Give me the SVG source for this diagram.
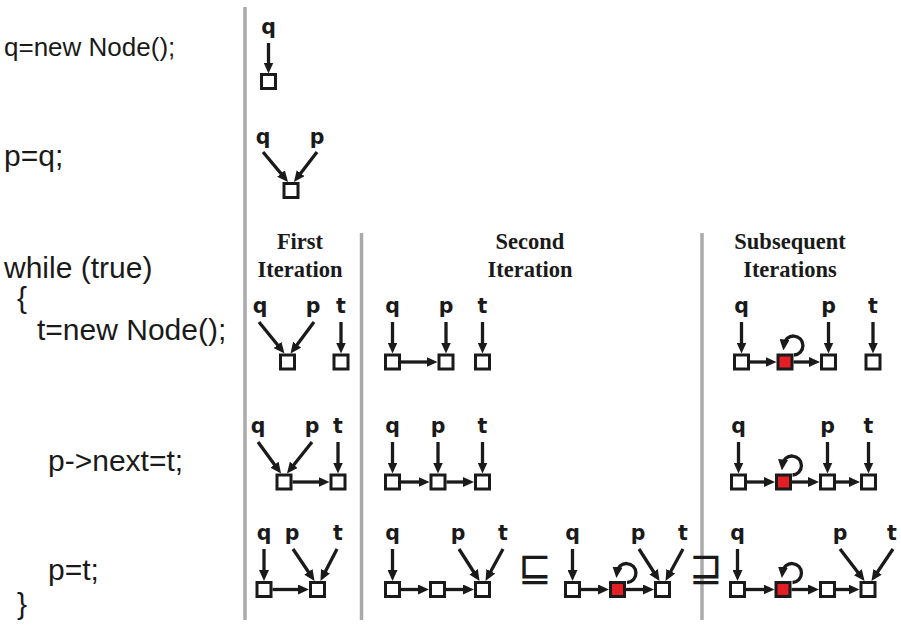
<svg xmlns="http://www.w3.org/2000/svg" width="901" height="627" viewBox="0 0 901 627">
<style>
.code{font-family:"Liberation Sans",Arial,sans-serif;font-size:30px;fill:#1a1a1a}
.lbl{font-family:"DejaVu Sans",sans-serif;font-size:20.5px;font-weight:bold;fill:#1a1a1a;text-anchor:middle}
.hdr{font-family:"Liberation Serif","Times New Roman",serif;font-size:22.5px;font-weight:bold;fill:#1a1a1a;text-anchor:middle}
.sym{font-family:"DejaVu Sans",sans-serif;font-size:40px;fill:#1a1a1a;text-anchor:middle}
.sq{fill:#fff;stroke:#1a1a1a;stroke-width:3}
.red{fill:#e31e24;stroke:#1a1a1a;stroke-width:3}
.arr{fill:none;stroke:#1a1a1a;stroke-width:3.3;marker-end:url(#ah)}
.sep{stroke:#aaaaaa;stroke-width:3.5}
</style>
<defs>
<marker id="ah" markerUnits="userSpaceOnUse" viewBox="0 0 11 10" markerWidth="11" markerHeight="10" refX="5" refY="5" orient="auto">
<path d="M0,0 L11,5 L0,10 z" fill="#1a1a1a"/>
</marker>
</defs>

<g id="separators">
<line class="sep" x1="245" y1="7" x2="245" y2="620"/>
<line class="sep" x1="361.5" y1="233" x2="361.5" y2="620"/>
<line class="sep" x1="702" y1="233" x2="702" y2="620"/>
</g>

<g id="code">
<text class="code" x="4" y="56" style="font-size:26px">q=new Node();</text>
<text class="code" x="4" y="166">p=q;</text>
<text class="code" x="4" y="278">while (true)</text>
<text class="code" x="17" y="308">{</text>
<text class="code" x="37" y="340">t=new Node();</text>
<text class="code" x="48" y="471">p-&gt;next=t;</text>
<text class="code" x="48" y="580">p=t;</text>
<text class="code" x="17" y="614">}</text>
</g>

<g id="headers">
<text class="hdr" x="300" y="249">First</text>
<text class="hdr" x="300" y="277">Iteration</text>
<text class="hdr" x="530" y="249">Second</text>
<text class="hdr" x="530" y="277">Iteration</text>
<text class="hdr" x="790" y="249">Subsequent</text>
<text class="hdr" x="790" y="277">Iterations</text>
</g>

<g id="labels">
<text class="lbl" x="268.5" y="34">q</text>
<text class="lbl" x="263" y="143.5">q</text>
<text class="lbl" x="317" y="143.5">p</text>
<text class="lbl" x="260" y="313">q</text>
<text class="lbl" x="313" y="313">p</text>
<text class="lbl" x="341" y="313">t</text>
<text class="lbl" x="392.5" y="313">q</text>
<text class="lbl" x="446" y="313">p</text>
<text class="lbl" x="482.5" y="313">t</text>
<text class="lbl" x="741.5" y="313">q</text>
<text class="lbl" x="828.5" y="313">p</text>
<text class="lbl" x="873" y="313">t</text>
<text class="lbl" x="258" y="433">q</text>
<text class="lbl" x="312" y="433">p</text>
<text class="lbl" x="338" y="433">t</text>
<text class="lbl" x="392.5" y="433">q</text>
<text class="lbl" x="438" y="433">p</text>
<text class="lbl" x="482.5" y="433">t</text>
<text class="lbl" x="738.5" y="433">q</text>
<text class="lbl" x="827.5" y="433">p</text>
<text class="lbl" x="868.5" y="433">t</text>
<text class="lbl" x="264" y="540">q</text>
<text class="lbl" x="292" y="540">p</text>
<text class="lbl" x="338" y="540">t</text>
<text class="lbl" x="392.5" y="540">q</text>
<text class="lbl" x="458" y="540">p</text>
<text class="lbl" x="503" y="540">t</text>
<text class="lbl" x="572.5" y="540">q</text>
<text class="lbl" x="638" y="540">p</text>
<text class="lbl" x="683" y="540">t</text>
<text class="lbl" x="737.5" y="540">q</text>
<text class="lbl" x="840" y="540">p</text>
<text class="lbl" x="892" y="540">t</text>
</g>

<g id="symbols">
<text class="sym" x="535" y="581">⊑</text>
<text class="sym" x="706" y="581">⊒</text>
</g>

<g id="connectors">
<!-- row A -->
<line class="arr" x1="268.5" y1="43" x2="268.5" y2="67.5"/>
<!-- row B -->
<line class="arr" x1="263" y1="152" x2="284.2" y2="177.4"/>
<line class="arr" x1="317" y1="152" x2="297.6" y2="177.2"/>
<!-- row C first -->
<line class="arr" x1="259" y1="322" x2="280.7" y2="348.8"/>
<line class="arr" x1="314" y1="322" x2="294.1" y2="348.7"/>
<line class="arr" x1="341" y1="322" x2="341" y2="347.5"/>
<!-- row C second -->
<line class="arr" x1="392.5" y1="322" x2="392.5" y2="347.5"/>
<line class="arr" x1="446" y1="322" x2="446" y2="347.5"/>
<line class="arr" x1="482.5" y1="322" x2="482.5" y2="347.5"/>
<line class="arr" x1="401" y1="362" x2="431.5" y2="362"/>
<!-- row C subsequent -->
<line class="arr" x1="741.5" y1="322" x2="741.5" y2="347.5"/>
<line class="arr" x1="828.5" y1="322" x2="828.5" y2="347.5"/>
<line class="arr" x1="873" y1="322" x2="873" y2="347.5"/>
<line class="arr" x1="750" y1="362" x2="770.5" y2="362"/>
<line class="arr" x1="793.5" y1="362" x2="814" y2="362"/>
<path class="arr" d="M794,355 A9.5 9.5 0 1 0 784,344.5"/>
<!-- row D first -->
<line class="arr" x1="258" y1="442" x2="277.5" y2="468.7"/>
<line class="arr" x1="312" y1="442" x2="290.7" y2="468.8"/>
<line class="arr" x1="338" y1="442" x2="338" y2="467.5"/>
<line class="arr" x1="292.5" y1="482" x2="323.5" y2="482"/>
<!-- row D second -->
<line class="arr" x1="392.5" y1="442" x2="392.5" y2="467.5"/>
<line class="arr" x1="438" y1="442" x2="438" y2="467.5"/>
<line class="arr" x1="482.5" y1="442" x2="482.5" y2="467.5"/>
<line class="arr" x1="401" y1="482" x2="423.5" y2="482"/>
<line class="arr" x1="446.5" y1="482" x2="468" y2="482"/>
<!-- row D subsequent -->
<line class="arr" x1="738.5" y1="442" x2="738.5" y2="467.5"/>
<line class="arr" x1="827.5" y1="442" x2="827.5" y2="467.5"/>
<line class="arr" x1="868.5" y1="442" x2="868.5" y2="467.5"/>
<line class="arr" x1="747" y1="482" x2="769" y2="482"/>
<line class="arr" x1="792" y1="482" x2="813" y2="482"/>
<line class="arr" x1="836" y1="482" x2="854" y2="482"/>
<path class="arr" d="M792.5,475 A9.5 9.5 0 1 0 782.5,464.5"/>
<!-- row E first -->
<line class="arr" x1="264" y1="549" x2="264" y2="575"/>
<line class="arr" x1="293" y1="549" x2="311.2" y2="576"/>
<line class="arr" x1="337" y1="549" x2="323.2" y2="575.7"/>
<line class="arr" x1="272.5" y1="589.5" x2="303" y2="589.5"/>
<!-- row E second left -->
<line class="arr" x1="392.5" y1="549" x2="392.5" y2="575"/>
<line class="arr" x1="459" y1="549" x2="476.3" y2="576"/>
<line class="arr" x1="503" y1="549" x2="488.4" y2="575.7"/>
<line class="arr" x1="401" y1="589.5" x2="423" y2="589.5"/>
<line class="arr" x1="446" y1="589.5" x2="468" y2="589.5"/>
<!-- row E second middle -->
<line class="arr" x1="572.5" y1="549" x2="572.5" y2="575"/>
<line class="arr" x1="639" y1="549" x2="656.3" y2="576"/>
<line class="arr" x1="683" y1="549" x2="668.4" y2="575.7"/>
<line class="arr" x1="581" y1="589.5" x2="603" y2="589.5"/>
<line class="arr" x1="626" y1="589.5" x2="648" y2="589.5"/>
<path class="arr" d="M627,582.5 A9.5 9.5 0 1 0 617,572"/>
<!-- row E subsequent -->
<line class="arr" x1="737.5" y1="549" x2="737.5" y2="575"/>
<line class="arr" x1="840" y1="549" x2="860.9" y2="576.2"/>
<line class="arr" x1="893" y1="549" x2="874.8" y2="576"/>
<line class="arr" x1="746" y1="589.5" x2="768.5" y2="589.5"/>
<line class="arr" x1="791.5" y1="589.5" x2="813" y2="589.5"/>
<line class="arr" x1="836" y1="589.5" x2="853.5" y2="589.5"/>
<path class="arr" d="M792.5,582.5 A9.5 9.5 0 1 0 782.5,572"/>
</g>

<g id="nodes">
<g id="a1"><rect class="sq" x="261.5" y="74.5" width="14" height="14"/></g>
<g id="b1"><rect class="sq" x="284" y="183.5" width="14" height="14"/></g>
<g id="c1"><rect class="sq" x="280.5" y="355" width="14" height="14"/></g>
<g id="c2"><rect class="sq" x="334" y="355" width="14" height="14"/></g>
<g id="c3"><rect class="sq" x="385.5" y="355" width="14" height="14"/></g>
<g id="c4"><rect class="sq" x="439" y="355" width="14" height="14"/></g>
<g id="c5"><rect class="sq" x="475.5" y="355" width="14" height="14"/></g>
<g id="c6"><rect class="sq" x="734.5" y="355" width="14" height="14"/></g>
<g id="c7"><rect class="red" x="778" y="355" width="14" height="14"/></g>
<g id="c8"><rect class="sq" x="821.5" y="355" width="14" height="14"/></g>
<g id="c9"><rect class="sq" x="866" y="355" width="14" height="14"/></g>
<g id="d1"><rect class="sq" x="277" y="475" width="14" height="14"/></g>
<g id="d2"><rect class="sq" x="331" y="475" width="14" height="14"/></g>
<g id="d3"><rect class="sq" x="385.5" y="475" width="14" height="14"/></g>
<g id="d4"><rect class="sq" x="431" y="475" width="14" height="14"/></g>
<g id="d5"><rect class="sq" x="475.5" y="475" width="14" height="14"/></g>
<g id="d6"><rect class="sq" x="731.5" y="475" width="14" height="14"/></g>
<g id="d7"><rect class="red" x="776.5" y="475" width="14" height="14"/></g>
<g id="d8"><rect class="sq" x="820.5" y="475" width="14" height="14"/></g>
<g id="d9"><rect class="sq" x="861.5" y="475" width="14" height="14"/></g>
<g id="e1"><rect class="sq" x="257" y="582.5" width="14" height="14"/></g>
<g id="e2"><rect class="sq" x="310.5" y="582.5" width="14" height="14"/></g>
<g id="e3"><rect class="sq" x="385.5" y="582.5" width="14" height="14"/></g>
<g id="e4"><rect class="sq" x="430.5" y="582.5" width="14" height="14"/></g>
<g id="e5"><rect class="sq" x="475.5" y="582.5" width="14" height="14"/></g>
<g id="e6"><rect class="sq" x="565.5" y="582.5" width="14" height="14"/></g>
<g id="e7"><rect class="red" x="610.5" y="582.5" width="14" height="14"/></g>
<g id="e8"><rect class="sq" x="655.5" y="582.5" width="14" height="14"/></g>
<g id="e9"><rect class="sq" x="730.5" y="582.5" width="14" height="14"/></g>
<g id="e10"><rect class="red" x="776" y="582.5" width="14" height="14"/></g>
<g id="e11"><rect class="sq" x="820.5" y="582.5" width="14" height="14"/></g>
<g id="e12"><rect class="sq" x="861" y="582.5" width="14" height="14"/></g>
</g>
</svg>
